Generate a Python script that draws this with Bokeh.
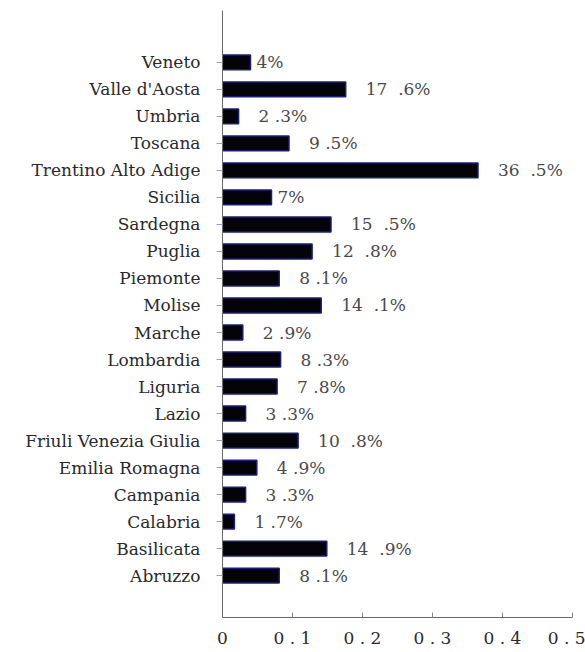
from bokeh.plotting import figure
from bokeh.models import Range1d, FixedTicker, ColumnDataSource
from bokeh.core.properties import value
from bokeh.embed import file_html
from bokeh.resources import INLINE

# Data (top to bottom as in the chart)
regions = ["Veneto", "Valle d'Aosta", "Umbria", "Toscana", "Trentino Alto Adige",
           "Sicilia", "Sardegna", "Puglia", "Piemonte", "Molise", "Marche",
           "Lombardia", "Liguria", "Lazio", "Friuli Venezia Giulia",
           "Emilia Romagna", "Campania", "Calabria", "Basilicata", "Abruzzo"]
values = [0.04, 0.176, 0.023, 0.095, 0.365, 0.07, 0.155, 0.128, 0.081, 0.141,
          0.029, 0.083, 0.078, 0.033, 0.108, 0.049, 0.033, 0.017, 0.149, 0.081]
value_labels = ["4%", "17\u00a0\u00a0.6%", "2 .3%", "9 .5%", "36\u00a0\u00a0.5%", "7%",
                "15\u00a0\u00a0.5%", "12\u00a0\u00a0.8%", "8 .1%", "14\u00a0\u00a0.1%",
                "2 .9%", "8 .3%", "7 .8%", "3 .3%", "10\u00a0\u00a0.8%", "4 .9%",
                "3 .3%", "1 .7%", "14\u00a0\u00a0.9%", "8 .1%"]
x_ticks = [0, 0.1, 0.2, 0.3, 0.4, 0.5]
x_tick_labels = ["0", "0\u00a0.\u00a01", "0\u00a0.\u00a02",
                 "0\u00a0.\u00a03", "0\u00a0.\u00a04", "0\u00a0.\u00a05"]

n = len(regions)
ypos = [n - 1 - i for i in range(n)]
offsets = [20 if "." in s else 6 for s in value_labels]

src = ColumnDataSource(dict(y=ypos, v=values, lab=value_labels, off=offsets))

FONT = "DejaVu Serif"

p = figure(width=585, height=650, output_backend="svg", toolbar_location=None,
           x_range=Range1d(0, 0.5), y_range=Range1d(-1.55, n - 1 + 1.92),
           min_border_left=222, min_border_right=13, min_border_top=10,
           min_border_bottom=0)
p.outline_line_color = None
p.grid.visible = False
p.background_fill_color = "white"

p.hbar(y="y", right="v", left=0, height=0.55, source=src,
       fill_color="#030308", line_color="#1c1c80", line_width=1.5)

p.text(x="v", y="y", text="lab", source=src, x_offset="off",
       text_font=value(FONT), text_font_size="17px", text_color="#4a4a4a",
       text_baseline="middle", text_align="left")

# y axis
ya = p.yaxis[0]
ya.ticker = FixedTicker(ticks=ypos)
ya.major_label_overrides = {y: r for y, r in zip(ypos, regions)}
ya.major_label_text_font = FONT
ya.major_label_text_font_size = "17px"
ya.major_label_text_color = "#2a2a2a"
ya.major_tick_out = 6
ya.major_tick_in = 0
ya.major_tick_line_color = "#9aa0c8"
ya.minor_tick_line_color = None
ya.axis_line_color = "#6a6a6a"
ya.major_label_standoff = 16

# x axis
xa = p.xaxis[0]
xa.ticker = FixedTicker(ticks=x_ticks)
xa.major_label_overrides = {t: l for t, l in zip(x_ticks, x_tick_labels)}
xa.major_label_text_font = FONT
xa.major_label_text_font_size = "17px"
xa.major_label_text_color = "#2a2a2a"
xa.major_tick_in = 5
xa.major_tick_out = 0
xa.major_tick_line_color = "#888888"
xa.minor_tick_line_color = None
xa.axis_line_color = "#6a6a6a"
xa.major_label_standoff = 10

open("out.html", "w").write(file_html(p, INLINE))
